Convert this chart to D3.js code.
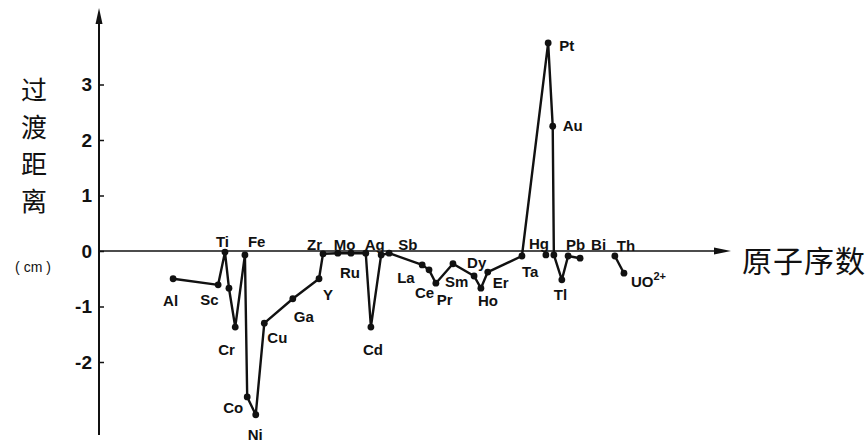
<!DOCTYPE html>
<html>
<head>
<meta charset="utf-8">
<script src="https://cdn.jsdelivr.net/npm/d3@7"></script>
<style>
  html, body { margin: 0; padding: 0; background: #fff; }
  svg { display: block; }
</style>
</head>
<body>
<svg id="chart" width="868" height="445"></svg>
<script>
// ---- data ----
// main curve, in drawing order
const mainNames = ["Al","Sc","Ti","V","Cr","Fe","Co","Ni","Cu","Ga","Y","Zr","Mo","Ru","Ag","Cd","In","Sb","La","Ce","Pr","Sm","Dy","Ho","Er","Ta","Pt","Au","Hg0","Tl","Pb","Bi"];
const mainZ    = [13.0, 20.9, 22.1, 22.8, 23.9, 25.6, 26.0, 27.5, 29.0, 34.0, 38.6, 39.3, 41.9, 44.2, 46.8, 47.7, 49.5, 50.9, 56.7, 57.9, 59.1, 62.1, 65.8, 67.0, 68.2, 74.2, 78.8, 79.6, 79.8, 81.2, 82.3, 84.4];
const mainDist = [-0.50,-0.61,-0.02,-0.67,-1.37,-0.07,-2.63,-2.95,-1.30,-0.86,-0.50,-0.05,-0.04,-0.04,-0.04,-1.37,-0.07,-0.04,-0.25,-0.34,-0.58,-0.23,-0.45,-0.67,-0.38,-0.09, 3.75, 2.25,-0.07,-0.52,-0.09,-0.13];
// separate Th – UO2+ segment
const thNames = ["Th","UO2+"];
const thZ     = [90.5, 92.1];
const thDist  = [-0.09, -0.40];
// isolated Hg mark
const hgNames = ["Hg"];
const hgZ     = [78.4];
const hgDist  = [-0.07];
// axis ticks
const yTicks = [3, 2, 1, 0, -1, -2];
const yTitleChars = ["过","渡","距","离"];
const yUnit = "( cm )";
const xTitle = "原子序数";

// ---- layout (label offsets relative to their point: dx to left edge, dy to baseline) ----
const labelOffset = {
  "Al":[-10,27], "Sc":[-18,20], "Ti":[-9,-5], "Fe":[3,-8], "Cr":[-17,28], "Co":[-24,16],
  "Ni":[-8,25], "Cu":[3,20], "Ga":[1,23], "Y":[4,21], "Zr":[-16,-4], "Mo":[-4,-3],
  "Ru":[-11,25], "Ag":[-1,-3], "Cd":[-8,28], "Sb":[9,-3], "La":[-25,18], "Ce":[-14,28],
  "Pr":[1,22], "Sm":[-8,23], "Dy":[-7,-8], "Ho":[-3,18], "Er":[5,16], "Ta":[0,21],
  "Hg":[-17,-6], "Pt":[11,8], "Au":[10,5], "Tl":[-8,20], "Pb":[-2,-6], "Bi":[11,-8],
  "Th":[2,-5], "UO2+":[7,14]
};

const svg = d3.select("#chart");
const x = d3.scaleLinear().domain([0, 110]).range([99, 726]);
const y = d3.scaleLinear().domain([-3, 4]).range([251 + 3 * 55.5, 251 - 4 * 55.5]);

const ink = "#111";

// y axis line with arrow
svg.append("line").attr("x1", x(0)).attr("x2", x(0)).attr("y1", 435).attr("y2", 18)
  .attr("stroke", ink).attr("stroke-width", 2);
svg.append("path").attr("d", `M${x(0)},8 L${x(0)-3.5},24 L${x(0)+3.5},24 Z`).attr("fill", ink);
// x axis line with arrow
svg.append("line").attr("x1", x(0)).attr("x2", 720).attr("y1", y(0)).attr("y2", y(0))
  .attr("stroke", ink).attr("stroke-width", 1.6);
svg.append("path").attr("d", `M731,${y(0)} L714,${y(0)-3.5} L714,${y(0)+3.5} Z`).attr("fill", ink);

// y ticks via d3 axis
const yAxis = d3.axisLeft(y).tickValues(yTicks).tickSize(-5).tickPadding(7)
  .tickFormat(d => d < 0 ? "-" + Math.abs(d) : String(d));
const gy = svg.append("g").attr("transform", `translate(${x(0)},0)`).call(yAxis);
gy.select(".domain").remove();
gy.selectAll(".tick line").attr("stroke", ink).attr("stroke-width", 1.5);
gy.selectAll(".tick text").attr("fill", ink)
  .style("font-family", "'Liberation Sans', Arial, sans-serif")
  .style("font-size", "19px").style("font-weight", "bold");

// titles
const yTitleY = [88, 125, 162, 199];
svg.selectAll(".ytc").data(yTitleChars).enter().append("text")
  .attr("x", 34).attr("y", (d, i) => yTitleY[i])
  .attr("text-anchor", "middle").attr("dominant-baseline", "central")
  .style("font-family", "'Noto Sans CJK SC', sans-serif").style("font-size", "26px")
  .attr("fill", ink).text(d => d);
svg.append("text").attr("x", 33).attr("y", 267).attr("text-anchor", "middle")
  .attr("dominant-baseline", "central")
  .style("font-family", "'Liberation Sans', Arial, sans-serif").style("font-size", "14px")
  .attr("fill", ink).text(yUnit);
svg.append("text").attr("x", 742).attr("y", 259).attr("dominant-baseline", "central")
  .style("font-family", "'Noto Sans CJK SC', sans-serif").style("font-size", "30px")
  .style("letter-spacing", "1px")
  .attr("fill", ink).text(xTitle);

// series
function makeSeries(names, zs, ds) {
  return names.map((n, i) => ({ name: n, z: zs[i], v: ds[i] }));
}
const mainData = makeSeries(mainNames, mainZ, mainDist);
const thData = makeSeries(thNames, thZ, thDist);
const hgData = makeSeries(hgNames, hgZ, hgDist);

const line = d3.line().x(d => x(d.z)).y(d => y(d.v));
[mainData, thData].forEach(ds => {
  svg.append("path").datum(ds).attr("d", line)
    .attr("fill", "none").attr("stroke", ink).attr("stroke-width", 2.4)
    .attr("stroke-linejoin", "round");
});

const allPts = mainData.concat(thData, hgData);
svg.selectAll(".pt").data(allPts).enter().append("circle")
  .attr("cx", d => x(d.z)).attr("cy", d => y(d.v)).attr("r", 3.4).attr("fill", ink);

// labels
const labelled = allPts.filter(d => labelOffset[d.name]);
const lab = svg.selectAll(".lab").data(labelled).enter().append("text")
  .attr("x", d => x(d.z) + labelOffset[d.name][0])
  .attr("y", d => y(d.v) + labelOffset[d.name][1])
  .style("font-family", "'Liberation Sans', Arial, sans-serif")
  .style("font-size", "15px").style("font-weight", "bold")
  .attr("fill", ink);
lab.each(function(d) {
  const t = d3.select(this);
  if (d.name === "UO2+") {
    t.append("tspan").text("UO");
    t.append("tspan").attr("dy", -7).style("font-size", "11px").text("2+");
  } else {
    t.text(d.name);
  }
});
</script>
</body>
</html>
